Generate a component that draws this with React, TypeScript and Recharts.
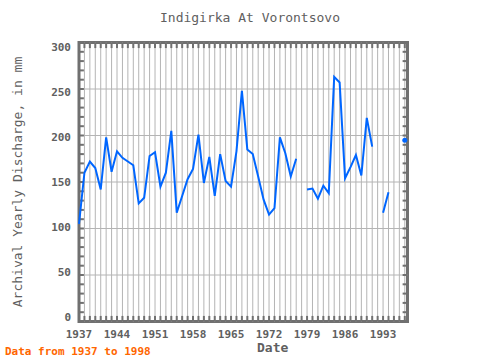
import React from "react";
import { LineChart, Line, XAxis, YAxis, ReferenceLine, ReferenceArea } from "recharts";

const years: number[] = [];
for (let y = 1937; y <= 1997; y++) years.push(y);

// null = gap in the record
const discharge: (number | null)[] = [
  105, 160, 172, 165, 142, 198, 161, 183, 176, 172,
  168, 127, 133, 178, 182, 145, 160, 205, 117, 135,
  153, 164, 201, 149, 177, 135, 180, 151, 145, 183,
  248, 185, 180, 156, 131, 115, 122, 198, 181, 156,
  175, null, 142, 143, 132, 146, 138, 263, 257, 154,
  166, 179, 157, 219, 188, null, 117, 139, null, null,
  195,
];

const xTicks = [1937, 1944, 1951, 1958, 1965, 1972, 1979, 1986, 1993];
const yTicks = [0, 50, 100, 150, 200, 250, 300];
const yMinor = [10, 20, 30, 40, 60, 70, 80, 90, 110, 120, 130, 140, 160, 170, 180, 190, 210, 220, 230, 240, 260, 270, 280, 290];

const X_MIN = 1937;
const X_MAX = 1997.5;

const data = years.map((year, i) => ({ year, value: discharge[i] }));

const GRID = "#b4b4b4";
const FRAME = "#707070";
const TEXT = "#606060";
const FONT = "'DejaVu Sans Mono', monospace";

// only lone points (no neighbours) get a marker
const renderDot = (props: any) => {
  const { cx, cy, index } = props;
  const prev = index > 0 ? discharge[index - 1] : null;
  const next = index < discharge.length - 1 ? discharge[index + 1] : null;
  if (discharge[index] == null || prev != null || next != null) return <g key={index} />;
  return <circle key={index} cx={cx} cy={cy} r={2.5} fill="#0066ff" />;
};

// y labels sit a bit inside the frame at the top and bottom in the original
const YTick = (props: any) => {
  const { x, y, payload } = props;
  const shift = -4.5 + 9 * (payload.value / 300);
  return (
    <text x={x} y={y + shift} dy={4} textAnchor="end" fill={TEXT} fontSize={11} fontFamily={FONT} fontWeight="bold">
      {payload.value}
    </text>
  );
};

export default function App() {
  return (
    <div style={{ position: "absolute", left: 0, top: 0, width: 480, height: 360, background: "#fff" }}>
      <div style={{ position: "absolute", left: 0, top: 10, width: 500, textAlign: "center", fontFamily: FONT, fontSize: 13, color: TEXT }}>
        Indigirka At Vorontsovo
      </div>
      <div
        style={{
          position: "absolute", left: 18, top: 182, width: 300, marginLeft: -150, textAlign: "center",
          transform: "rotate(-90deg)", fontFamily: FONT, fontSize: 13, color: TEXT, lineHeight: "16px", marginTop: -8,
        }}
      >
        Archival Yearly Discharge, in mm
      </div>
      <div style={{ position: "absolute", left: 257, top: 341, lineHeight: "13px", fontFamily: FONT, fontSize: 13, fontWeight: "bold", color: TEXT }}>
        Date
      </div>
      <div style={{ position: "absolute", left: 5, top: 346, lineHeight: "11px", fontFamily: FONT, fontSize: 11, fontWeight: "bold", color: "#ff6600" }}>
        Data from 1937 to 1998
      </div>
      <LineChart width={480} height={360} data={data} margin={{ top: 42.5, right: 72.5, bottom: 8.5, left: 0 }}>
        <XAxis
          dataKey="year"
          type="number"
          domain={[X_MIN, X_MAX]}
          ticks={xTicks}
          height={30}
          axisLine={false}
          tickLine={false}
          interval={0}
          tick={{ fill: TEXT, fontSize: 11, fontFamily: FONT, fontWeight: "bold", dy: 1 }}
        />
        <YAxis
          type="number"
          domain={[0, 300]}
          ticks={yTicks}
          width={79}
          axisLine={false}
          tickLine={false}
          interval={0}
          tick={<YTick />}
        />
        {years.slice(1).map((y) => (
          <ReferenceLine key={"vx" + y} x={y} stroke={GRID} strokeWidth={1} />
        ))}
        {yTicks.slice(1, -1).map((v) => (
          <ReferenceLine key={"hy" + v} y={v} stroke={GRID} strokeWidth={1} />
        ))}
        {years.slice(1).map((y) => (
          <ReferenceLine key={"tb" + y} segment={[{ x: y, y: 0 }, { x: y, y: 6 }]} stroke={FRAME} strokeWidth={2} />
        ))}
        {years.slice(1).map((y) => (
          <ReferenceLine key={"tt" + y} segment={[{ x: y, y: 300 }, { x: y, y: 294 }]} stroke={FRAME} strokeWidth={2} />
        ))}
        {[...yMinor, ...yTicks].map((v) => (
          <ReferenceLine key={"tl" + v} segment={[{ x: X_MIN, y: v }, { x: X_MIN + 0.9, y: v }]} stroke={FRAME} strokeWidth={2} />
        ))}
        {[...yMinor, ...yTicks].map((v) => (
          <ReferenceLine key={"tr" + v} segment={[{ x: X_MAX, y: v }, { x: X_MAX - 0.9, y: v }]} stroke={FRAME} strokeWidth={2} />
        ))}
        <ReferenceArea x1={X_MIN} x2={X_MAX} y1={0} y2={300} fill="none" stroke={FRAME} strokeWidth={3} />
        <Line
          dataKey="value"
          stroke="#0066ff"
          strokeWidth={2}
          dot={renderDot}
          activeDot={false}
          connectNulls={false}
          isAnimationActive={false}
        />
      </LineChart>
    </div>
  );
}
